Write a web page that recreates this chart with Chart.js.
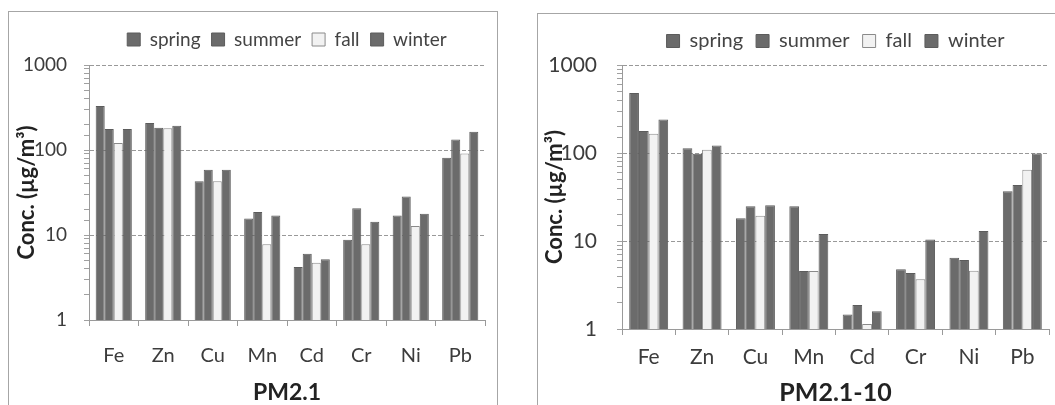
<!DOCTYPE html>
<html>
<head>
<meta charset="utf-8">
<script src="https://cdn.jsdelivr.net/npm/chart.js@4"></script>
<style>
  body { margin: 0; background: #fff; width: 1055px; height: 405px; overflow: hidden; position: relative; }
  .box { position: absolute; border: 1px solid #a6a6a6; box-sizing: border-box; }
  canvas { position: absolute; }
</style>
</head>
<body>
<div class="box" style="left:8px;top:11px;width:490px;height:420px;"></div>
<div class="box" style="left:537px;top:13px;width:540px;height:420px;"></div>
<canvas id="fine" width="488" height="393" style="left:9px;top:12px;"></canvas>
<canvas id="coarse" width="517" height="391" style="left:538px;top:14px;"></canvas>
<script>
const metals = ["Fe", "Zn", "Cu", "Mn", "Cd", "Cr", "Ni", "Pb"];
const seasons = ["spring", "summer", "fall", "winter"];

// PM2.1 (µg/m3)
const fineSpring = [329, 208, 42.8, 15.6, 4.2, 8.8, 17.0, 81];
const fineSummer = [177, 183, 58.7, 18.7, 6.0, 20.6, 28.3, 133];
const fineFall   = [121, 180, 42.8, 7.8, 4.7, 7.8, 12.8, 91];
const fineWinter = [177, 193, 58.7, 17.0, 5.2, 14.3, 17.8, 164];

// PM2.1-10
const coarseSpring = [481, 113, 18.1, 24.8, 1.46, 4.76, 6.47, 36.7];
const coarseSummer = [178, 98, 24.8, 4.56, 1.87, 4.33, 6.09, 43.3];
const coarseFall   = [166, 109, 19.4, 4.56, 1.14, 3.67, 4.60, 64.7];
const coarseWinter = [241, 122, 25.4, 12.0, 1.59, 10.4, 13.0, 99];

const yTicks = [1, 10, 100, 1000];

const fills = ["#6b6b6b", "#6b6b6b", "#f2f2f2", "#6b6b6b"];
const edges = ["#5c5c5c", "#5c5c5c", "#8a8a8a", "#5c5c5c"];

const FONT = "Lato, 'Open Sans', sans-serif";

// fixes the legend height so the plot top lands where it should
const legendHeight = {
  id: "legendHeight",
  beforeLayout(chart, args, opts) {
    const lg = chart.legend;
    if (!lg || lg._fixed) return;
    const fit = lg.fit;
    lg.fit = function () { fit.call(this); this.height = opts.h; };
    lg._fixed = true;
  }
};

function makeChart(id, series, title, L) {
  return new Chart(document.getElementById(id), {
    type: "bar",
    data: {
      labels: metals,
      datasets: seasons.map((s, i) => ({
        label: s,
        data: series[i],
        backgroundColor: fills[i],
        borderColor: edges[i],
        borderWidth: 1,
        categoryPercentage: 0.73,
        barPercentage: 1
      }))
    },
    plugins: [legendHeight],
    options: {
      responsive: false,
      animation: false,
      devicePixelRatio: 1,
      layout: { padding: { top: L.padTop, right: L.padRight, left: 0, bottom: 0 } },
      plugins: {
        legendHeight: { h: L.legendH },
        tooltip: { enabled: false },
        legend: {
          position: "top",
          fullSize: false,
          labels: {
            boxWidth: 13,
            boxHeight: 13,
            padding: L.legendPad,
            color: "#444",
            font: { family: FONT, size: L.legendFont }
          }
        }
      },
      scales: {
        x: {
          afterFit: s => { s.height = L.xH; },
          grid: { drawOnChartArea: false, drawTicks: true, tickLength: 6, tickColor: "#9a9a9a", color: "#9a9a9a" },
          border: { color: "#9a9a9a", width: 1 },
          ticks: { padding: L.xPad, color: "#3c3c3c", font: { family: FONT, size: L.xFont } },
          title: {
            display: true,
            text: title,
            color: "#222",
            padding: { top: 0, bottom: L.titlePad },
            font: { family: FONT, size: L.titleFont, weight: "bold", lineHeight: 1 }
          }
        },
        y: {
          type: "logarithmic",
          min: 1,
          max: 1000,
          afterFit: s => { s.width = L.yW; },
          grid: {
            drawTicks: true,
            tickLength: 5,
            tickColor: "#a0a0a0",
            tickBorderDash: [],
            color: c => (yTicks.includes(c.tick.value) && c.tick.value > 1) ? "#999" : "transparent"
          },
          border: { color: "#9a9a9a", width: 1, dash: [4, 2] },
          ticks: {
            autoSkip: false,
            padding: L.yPad,
            color: "#3c3c3c",
            font: { family: FONT, size: L.yFont },
            callback: v => yTicks.includes(v) ? String(v) : ""
          },
          title: {
            display: true,
            text: "Conc. (µg/m³)",
            color: "#222",
            padding: { top: L.yTitlePad, bottom: 0 },
            font: { family: FONT, size: L.yTitleFont, weight: "bold" }
          }
        }
      }
    }
  });
}

makeChart("fine", [fineSpring, fineSummer, fineFall, fineWinter], "PM2.1", {
  padTop: 7, padRight: 12, legendH: 46, legendPad: 11, legendFont: 19,
  xH: 85, xPad: 18, xFont: 20, titleFont: 23, titlePad: 1,
  yW: 80, yPad: 17, yFont: 19, yTitlePad: 5, yTitleFont: 22
});

makeChart("coarse", [coarseSpring, coarseSummer, coarseFall, coarseWinter], "PM2.1-10", {
  padTop: 4, padRight: 6, legendH: 47, legendPad: 13, legendFont: 20,
  xH: 76, xPad: 10, xFont: 21, titleFont: 25, titlePad: 0,
  yW: 84, yPad: 20, yFont: 21, yTitlePad: 4, yTitleFont: 22
});
</script>
</body>
</html>
